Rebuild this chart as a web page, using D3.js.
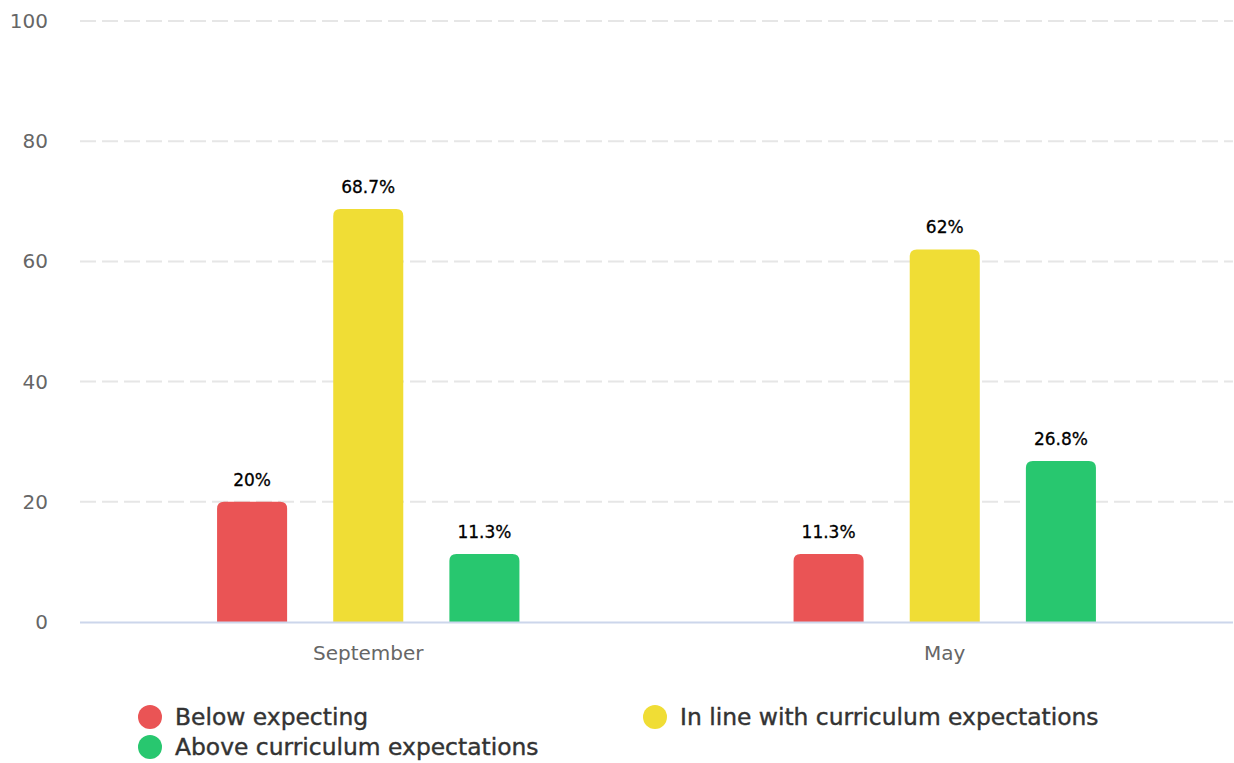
<!DOCTYPE html>
<html>
<head>
<meta charset="utf-8">
<script src="https://cdn.jsdelivr.net/npm/d3@7"></script>
<style>
  body { margin: 0; background: #fff; }
  svg { display: block; font-family: "DejaVu Sans", sans-serif; }
</style>
</head>
<body>
<svg id="chart" width="1234" height="763"></svg>
<script>
var categories = ['September', 'May'];
var seriesNames = ['Below expecting', 'In line with curriculum expectations', 'Above curriculum expectations'];
var seriesColors = ['#ea5455', '#f0dd35', '#28c76f'];
var below = [20, 11.3];
var inline = [68.7, 62];
var above = [11.3, 26.8];
var yTicks = [0, 20, 40, 60, 80, 100];

var seriesValues = [below, inline, above];

var svg = d3.select('#chart');
var plotLeft = 80, plotRight = 1233, plotTop = 21, plotBottom = 622;

var x = d3.scaleBand().domain(categories).range([plotLeft, plotRight]);
var inner = d3.scaleBand().domain(d3.range(seriesNames.length)).range([0, x.bandwidth()]).paddingInner(0.397).paddingOuter(1.18);
var y = d3.scaleLinear().domain([0, 100]).range([plotBottom, plotTop]);

// grid
svg.append('g').selectAll('line').data(yTicks.filter(function(d) { return d > 0; }))
  .enter().append('line')
  .attr('x1', plotLeft).attr('x2', plotRight)
  .attr('y1', function(d) { return y(d); }).attr('y2', function(d) { return y(d); })
  .style('stroke', '#e6e6e6').style('stroke-width', 2).style('stroke-dasharray', '16,6');

// y labels
svg.append('g').selectAll('text').data(yTicks)
  .enter().append('text')
  .attr('x', 48).attr('y', function(d) { return y(d); })
  .attr('dy', '0.35em').attr('text-anchor', 'end')
  .style('font-size', '20px').style('fill', '#666')
  .text(function(d) { return d; });

// bars
function barPath(x0, w, y0, y1, r) {
  r = Math.min(r, (y1 - y0));
  return 'M' + x0 + ',' + y1 + 'V' + (y0 + r) + 'Q' + x0 + ',' + y0 + ' ' + (x0 + r) + ',' + y0 +
    'H' + (x0 + w - r) + 'Q' + (x0 + w) + ',' + y0 + ' ' + (x0 + w) + ',' + (y0 + r) + 'V' + y1 + 'Z';
}

categories.forEach(function(cat, ci) {
  seriesValues.forEach(function(vals, si) {
    var bx = x(cat) + inner(si);
    var bw = inner.bandwidth();
    var v = vals[ci];
    svg.append('path')
      .attr('d', barPath(bx, bw, y(v), y(0), 7))
      .style('fill', seriesColors[si]);
    svg.append('text')
      .attr('x', bx + bw / 2).attr('y', y(v) - 16)
      .attr('text-anchor', 'middle')
      .style('font-size', '17px').style('fill', '#000')
      .style('stroke', '#000').style('stroke-width', 0.3)
      .text(v + '%');
  });
});

// axis line
svg.append('line').attr('x1', plotLeft).attr('x2', plotRight)
  .attr('y1', plotBottom + 0.5).attr('y2', plotBottom + 0.5)
  .style('stroke', '#ccd6eb').style('stroke-width', 2);

// x labels
svg.append('g').selectAll('text').data(categories)
  .enter().append('text')
  .attr('x', function(d) { return x(d) + x.bandwidth() / 2; })
  .attr('y', 660).attr('text-anchor', 'middle')
  .style('font-size', '20px').style('fill', '#666')
  .text(function(d) { return d; });

// legend
var legendPos = [[150, 717], [655, 717], [150, 747]];
seriesNames.forEach(function(name, i) {
  var p = legendPos[i];
  svg.append('circle').attr('cx', p[0]).attr('cy', p[1]).attr('r', 12).style('fill', seriesColors[i]);
  svg.append('text').attr('x', p[0] + 25).attr('y', p[1]).attr('dy', '0.35em')
    .style('font-size', '23.4px').style('fill', '#333')
    .style('stroke', '#333').style('stroke-width', 0.4)
    .text(name);
});
</script>
</body>
</html>
